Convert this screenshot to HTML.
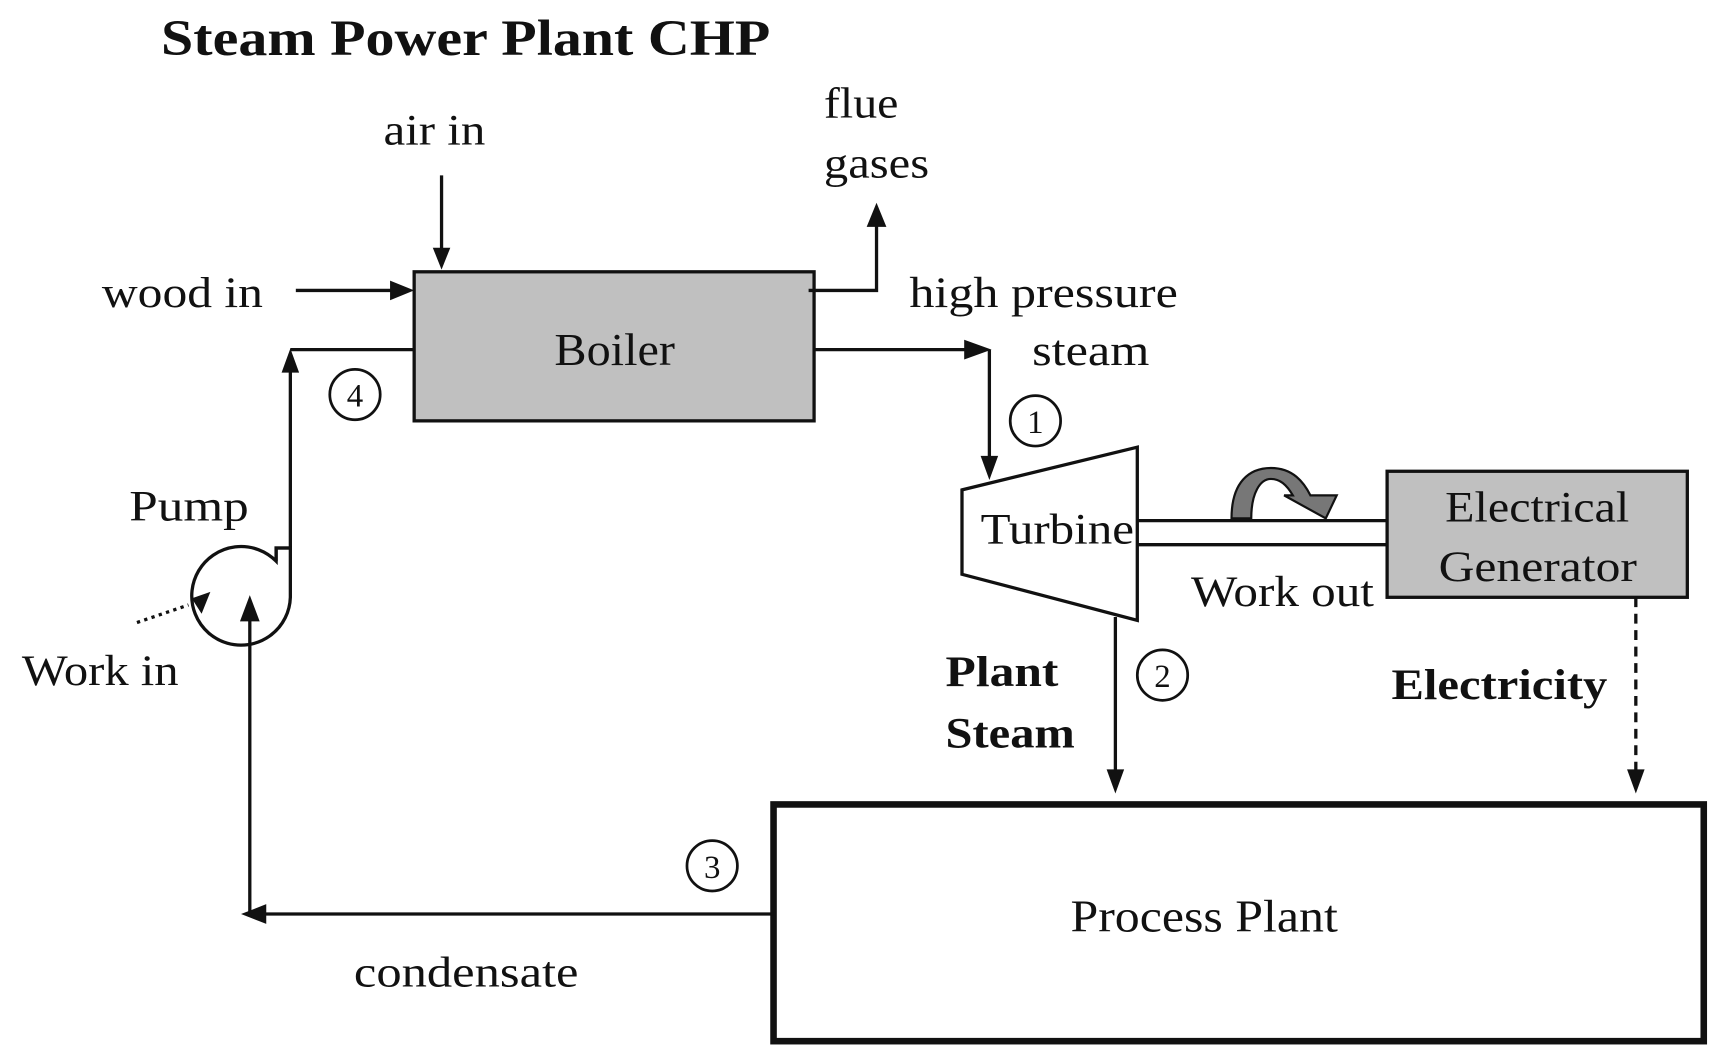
<!DOCTYPE html>
<html><head><meta charset="utf-8"><style>
html,body{margin:0;padding:0;background:#fff;}
svg{display:block;}
text{font-family:"Liberation Serif",serif;fill:#111;}
</style></head><body>
<svg width="1718" height="1062" viewBox="0 0 1568 969" preserveAspectRatio="none" xmlns="http://www.w3.org/2000/svg">
<g stroke="#111" stroke-width="3" fill="none">
<rect x="378" y="248" width="365" height="136" fill="#c0c0c0"/>
<line x1="403" y1="160" x2="403" y2="228"/>
<line x1="270" y1="265" x2="358" y2="265"/>
<polyline points="738,265 800,265 800,205"/>
<polyline points="378,319 265,319"/>
<polyline points="265,338 265,500 252,500 252,512"/>
<line x1="743" y1="319" x2="884" y2="319"/>
<line x1="903" y1="319" x2="903" y2="418"/>
<polygon points="878,447 1038,408 1038,566 878,524" fill="#fff"/>
<line x1="1038" y1="475" x2="1266" y2="475"/>
<line x1="1038" y1="497" x2="1266" y2="497"/>
<rect x="1266" y="430" width="274" height="115" fill="#c0c0c0"/>
<line x1="1018" y1="563" x2="1018" y2="705"/>
<line x1="1493" y1="545" x2="1493" y2="705" stroke-dasharray="9,6"/>
<rect x="706" y="734" width="849" height="216" stroke-width="6"/>
<line x1="706" y1="834" x2="240" y2="834"/>
<line x1="228" y1="834" x2="228" y2="565"/>
<path d="M265,545 A45,45 0 1 1 252,512 L252,500 L265,500 Z" fill="none"/>
<line x1="125" y1="568" x2="172" y2="552" stroke-dasharray="3,4"/>
<circle cx="324" cy="360" r="23" stroke-width="2.5"/>
<circle cx="945" cy="384" r="23" stroke-width="2.5"/>
<circle cx="1061" cy="616" r="23" stroke-width="2.5"/>
<circle cx="650" cy="790" r="23" stroke-width="2.5"/>
</g>
<g fill="#111">
<polygon points="403,246 395,226 411,226"/>
<polygon points="378,265 356,256 356,274"/>
<polygon points="800,185 791,207 809,207"/>
<polygon points="265,318 257,340 273,340"/>
<polygon points="905,319 880,310 880,328"/>
<polygon points="903,438 895,416 911,416"/>
<polygon points="1018,724 1010,702 1026,702"/>
<polygon points="1493,724 1485,702 1501,702"/>
<polygon points="220,834 243,825 243,843"/>
<polygon points="228,543 219,567 237,567"/>
<polygon points="175,546 192,540 184,560"/>
</g>
<path d="M1124,473 C1124,440 1140,427 1160,427 C1180,427 1190,440 1196,452 L1220,452 L1210,473 L1172,452 L1180,452 C1174,442 1168,437 1160,437 C1150,437 1142,450 1142,473 Z" fill="#777" stroke="#111" stroke-width="2"/>
<text x="147" y="50" font-size="46" font-weight="bold" textLength="556" lengthAdjust="spacingAndGlyphs">Steam Power Plant CHP</text>
<text x="350" y="132" font-size="40" textLength="93" lengthAdjust="spacingAndGlyphs">air in</text>
<text x="752" y="107" font-size="40" textLength="68" lengthAdjust="spacingAndGlyphs">flue</text>
<text x="752" y="162" font-size="40" textLength="96" lengthAdjust="spacingAndGlyphs">gases</text>
<text x="93" y="280" font-size="40" textLength="147" lengthAdjust="spacingAndGlyphs">wood in</text>
<text x="506" y="333" font-size="42" textLength="110" lengthAdjust="spacingAndGlyphs">Boiler</text>
<text x="830" y="280" font-size="40" textLength="245" lengthAdjust="spacingAndGlyphs">high pressure</text>
<text x="942" y="333" font-size="40" textLength="107" lengthAdjust="spacingAndGlyphs">steam</text>
<text x="324" y="371" font-size="30" text-anchor="middle">4</text>
<text x="945" y="395" font-size="30" text-anchor="middle">1</text>
<text x="1061" y="627" font-size="30" text-anchor="middle">2</text>
<text x="650" y="801" font-size="30" text-anchor="middle">3</text>
<text x="895" y="496" font-size="40" textLength="140" lengthAdjust="spacingAndGlyphs">Turbine</text>
<text x="1319" y="476" font-size="40" textLength="168" lengthAdjust="spacingAndGlyphs">Electrical</text>
<text x="1313" y="530" font-size="40" textLength="181" lengthAdjust="spacingAndGlyphs">Generator</text>
<text x="1087" y="553" font-size="40" textLength="167" lengthAdjust="spacingAndGlyphs">Work out</text>
<text x="863" y="626" font-size="40" font-weight="bold" textLength="103" lengthAdjust="spacingAndGlyphs">Plant</text>
<text x="863" y="682" font-size="40" font-weight="bold" textLength="118" lengthAdjust="spacingAndGlyphs">Steam</text>
<text x="1270" y="638" font-size="40" font-weight="bold" textLength="197" lengthAdjust="spacingAndGlyphs">Electricity</text>
<text x="977" y="850" font-size="42" textLength="244" lengthAdjust="spacingAndGlyphs">Process Plant</text>
<text x="323" y="900" font-size="40" textLength="205" lengthAdjust="spacingAndGlyphs">condensate</text>
<text x="118" y="475" font-size="40" textLength="109" lengthAdjust="spacingAndGlyphs">Pump</text>
<text x="20" y="625" font-size="40" textLength="143" lengthAdjust="spacingAndGlyphs">Work in</text>
</svg>
</body></html>
